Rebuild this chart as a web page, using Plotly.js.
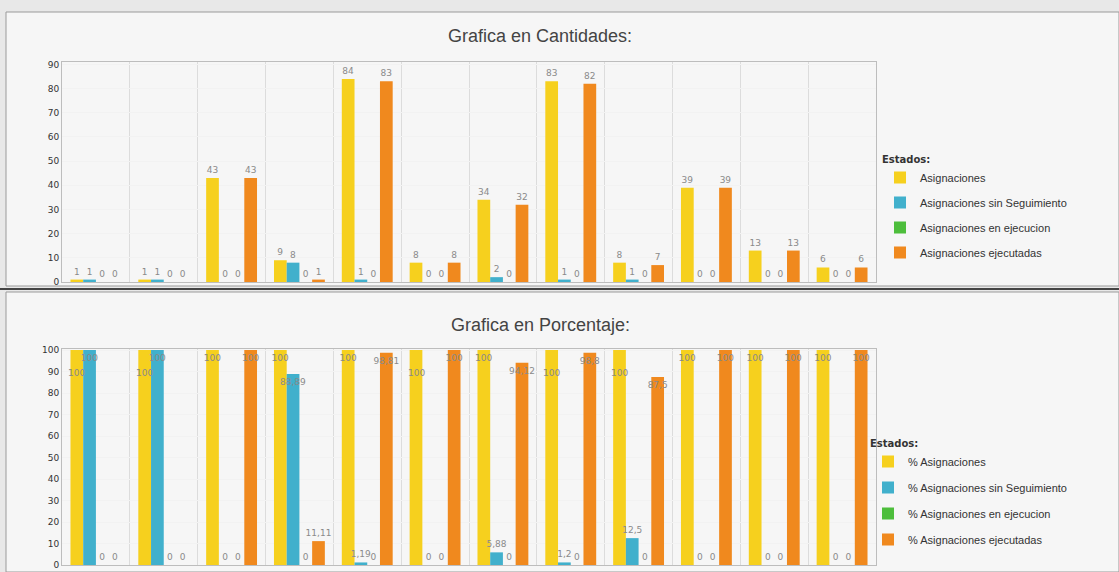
<!DOCTYPE html>
<html>
<head>
<meta charset="utf-8">
<script src="https://cdn.plot.ly/plotly-3.0.1.min.js"></script>
<style>html,body{margin:0;padding:0;background:#e8e8e8;}#chart{width:1119px;height:572px;}</style>
</head>
<body>
<div id="chart"></div>
<script>
// Categories (unnamed groups in the original)
const categories = ['G1','G2','G3','G4','G5','G6','G7','G8','G9','G10','G11','G12'];

// Grafica en Cantidades
const asignaciones      = [1, 1, 43, 9, 84, 8, 34, 83, 8, 39, 13, 6];
const sinSeguimiento    = [1, 1, 0, 8, 1, 0, 2, 1, 1, 0, 0, 0];
const enEjecucion       = [0, 0, 0, 0, 0, 0, 0, 0, 0, 0, 0, 0];
const ejecutadas        = [0, 0, 43, 1, 83, 8, 32, 82, 7, 39, 13, 6];

// Grafica en Porcentaje
const pctAsignaciones   = [100, 100, 100, 100, 100, 100, 100, 100, 100, 100, 100, 100];
const pctSinSeguimiento = [100, 100, 0, 88.89, 1.19, 0, 5.88, 1.2, 12.5, 0, 0, 0];
const pctEnEjecucion    = [0, 0, 0, 0, 0, 0, 0, 0, 0, 0, 0, 0];
const pctEjecutadas     = [0, 0, 100, 11.11, 98.81, 100, 94.12, 98.8, 87.5, 100, 100, 100];

const names1 = ['Asignaciones','Asignaciones sin Seguimiento','Asignaciones en ejecucion','Asignaciones ejecutadas'];
const names2 = ['% Asignaciones','% Asignaciones sin Seguimiento','% Asignaciones en ejecucion','% Asignaciones ejecutadas'];
const colors = ['#F6D01E','#41B0CC','#4DBE3C','#F0891E'];

// label styling: in the percentage chart some "% Asignaciones" labels sit lower to avoid collisions
const loweredYellowLabels = new Set([0, 1, 5, 7, 8]);

const fmt = v => String(v).replace('.', ',');
const labelFont = {family: 'DejaVu Sans, sans-serif', size: 9, color: '#8a8a8a'};

const traces = [];
[asignaciones, sinSeguimiento, enEjecucion, ejecutadas].forEach((vals, i) => {
  traces.push({
    type: 'bar', x: categories, y: vals, name: names1[i],
    marker: {color: colors[i]},
    text: vals.map(fmt), textposition: 'outside', textfont: labelFont, textangle: 0,
    cliponaxis: false, xaxis: 'x', yaxis: 'y', legend: 'legend', legendgroup: 'a' + i,
    hoverinfo: 'skip'
  });
});
[pctAsignaciones, pctSinSeguimiento, pctEnEjecucion, pctEjecutadas].forEach((vals, i) => {
  traces.push({
    type: 'bar', x: categories, y: vals, name: names2[i],
    marker: {color: colors[i]},
    text: vals.map((v, k) => (i === 0 && loweredYellowLabels.has(k)) ? '' : fmt(v)),
    textposition: vals.map(v => v >= 85 ? 'inside' : 'outside'),
    insidetextanchor: 'end', constraintext: 'none', textangle: 0,
    textfont: labelFont, insidetextfont: labelFont, outsidetextfont: labelFont,
    cliponaxis: false, xaxis: 'x2', yaxis: 'y2', legend: 'legend2', legendgroup: 'b' + i,
    hoverinfo: 'skip'
  });
});

const H = 572, W = 1119;
const py = p => 1 - p / H;
const px = p => p / W;

const xCommon = {
  domain: [px(62), px(876)], showticklabels: false, ticks: '',
  tickson: 'boundaries', showgrid: true, gridcolor: '#dcdcdc', gridwidth: 1,
  showline: true, linecolor: '#bdbdbd', mirror: true, zeroline: false, fixedrange: true
};
const yCommon = {
  tickfont: {family: 'DejaVu Sans, sans-serif', size: 9, color: '#333'},
  showgrid: true, gridcolor: '#f2f2f2', showline: true, linecolor: '#bdbdbd', mirror: true,
  zeroline: false, ticks: '', fixedrange: true
};
const legendCommon = {
  font: {family: 'Liberation Sans, Arial, sans-serif', size: 11, color: '#333'},
  bgcolor: 'rgba(0,0,0,0)', traceorder: 'grouped', tracegroupgap: 6,
  xanchor: 'left', yanchor: 'top', itemwidth: 30
};

// lowered "% Asignaciones" labels, anchored to the bar tops via the axes
const loweredAnnotations = [...loweredYellowLabels].map(k => ({
  text: fmt(pctAsignaciones[k]), xref: 'x2', yref: 'y2',
  x: categories[k], y: pctAsignaciones[k], xshift: -19, yshift: -30,
  showarrow: false, xanchor: 'center', yanchor: 'bottom', font: labelFont
}));

const layout = {
  width: W, height: H,
  margin: {l: 0, r: 0, t: 0, b: 0},
  paper_bgcolor: '#e8e8e8', plot_bgcolor: '#ffffff',
  barmode: 'group', bargap: 0.25, bargroupgap: 0,
  showlegend: true,
  xaxis: Object.assign({}, xCommon, {anchor: 'y'}),
  yaxis: Object.assign({}, yCommon, {domain: [py(282), py(62)], range: [0, 91], dtick: 10, anchor: 'x'}),
  xaxis2: Object.assign({}, xCommon, {anchor: 'y2'}),
  yaxis2: Object.assign({}, yCommon, {domain: [py(565), py(349)], range: [0, 100.5], dtick: 10, anchor: 'x2'}),
  legend: Object.assign({}, legendCommon, {x: px(880), y: py(150),
    title: {text: '<b>Estados:</b>', font: {family: 'DejaVu Sans, sans-serif', size: 10, color: '#333'}}}),
  legend2: Object.assign({}, legendCommon, {x: px(868), y: py(434), tracegroupgap: 7,
    title: {text: '<b>Estados:</b>', font: {family: 'DejaVu Sans, sans-serif', size: 10, color: '#333'}}}),
  shapes: [
    {type: 'rect', xref: 'paper', yref: 'paper', layer: 'below',
     x0: px(6), x1: px(1119), y0: py(286), y1: py(12),
     line: {color: '#9a9a9a', width: 1}, fillcolor: '#f6f6f6'},
    {type: 'rect', xref: 'paper', yref: 'paper', layer: 'below',
     x0: px(6), x1: px(1119), y0: py(572), y1: py(292),
     line: {color: '#9a9a9a', width: 1}, fillcolor: '#f6f6f6'},
    {type: 'line', xref: 'paper', yref: 'paper',
     x0: 0, x1: 1, y0: py(289), y1: py(289), line: {color: '#444', width: 2}}
  ],
  annotations: [
    {text: 'Grafica en Cantidades:', xref: 'paper', yref: 'paper', x: px(540), y: py(36),
     showarrow: false, xanchor: 'center', yanchor: 'middle',
     font: {family: 'Liberation Sans, Arial, sans-serif', size: 18, color: '#444'}},
    {text: 'Grafica en Porcentaje:', xref: 'paper', yref: 'paper', x: px(540), y: py(325),
     showarrow: false, xanchor: 'center', yanchor: 'middle',
     font: {family: 'Liberation Sans, Arial, sans-serif', size: 18, color: '#444'}}
  ].concat(loweredAnnotations),
  hovermode: false
};

Plotly.newPlot('chart', traces, layout, {displayModeBar: false, staticPlot: true});
</script>
</body>
</html>
